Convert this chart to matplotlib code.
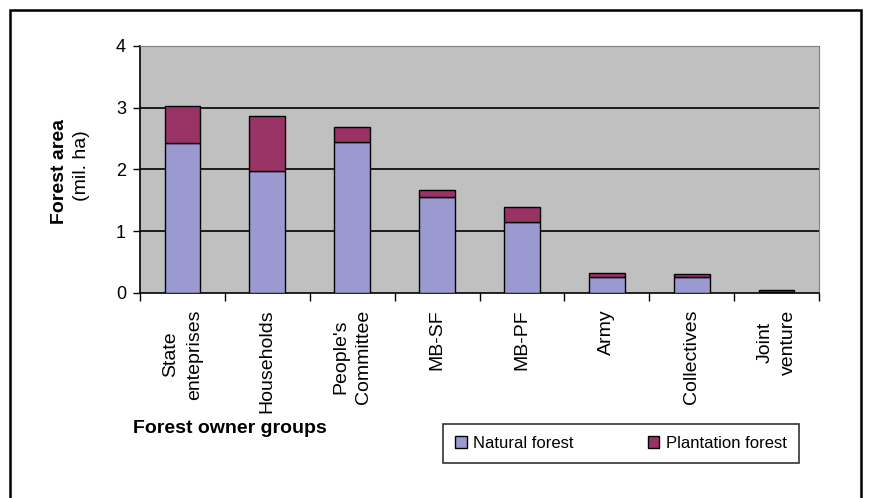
import numpy as np
import matplotlib
matplotlib.use("Agg")
import matplotlib.pyplot as plt
from matplotlib.patches import Rectangle

plt.rcParams['font.family'] = ['Liberation Sans', 'DejaVu Sans']

# data (mil. ha)
groups = ["State\nenteprises", "Households", "People's\nCommittee", "MB-SF",
          "MB-PF", "Army", "Collectives", "Joint\nventure"]
natural = [2.42, 1.98, 2.44, 1.55, 1.15, 0.25, 0.25, 0.01]
plantation = [0.61, 0.89, 0.25, 0.11, 0.24, 0.07, 0.05, 0.04]
yticks = [0, 1, 2, 3, 4]

W, H = 872, 498
fig = plt.figure(figsize=(W / 100, H / 100), dpi=100)
ax = fig.add_axes([140 / W, 1 - 292.7 / H, (819 - 140) / W, (292.7 - 46) / H])

x = np.arange(len(groups))
ax.set_facecolor('#c0c0c0')
ax.bar(x, natural, width=0.42, color='#9a9ad0', edgecolor='black', linewidth=1,
       label='Natural forest', zorder=3)
ax.bar(x, plantation, width=0.42, bottom=natural, color='#993366', edgecolor='black',
       linewidth=1, label='Plantation forest', zorder=3)

# gridlines
for v in yticks[1:-1]:
    ax.axhline(v, color='black', linewidth=1.2, zorder=1)

ax.set_xlim(-0.5, len(groups) - 0.5)
ax.set_ylim(0, 4)
ax.set_yticks(yticks)
ax.set_yticklabels([str(v) for v in yticks], fontsize=13)
ax.tick_params(axis='y', direction='out', length=5, width=1, pad=5)

ax.set_xticks(np.arange(len(groups) + 1) - 0.5)
ax.set_xticklabels([])
ax.tick_params(axis='x', direction='out', length=6, width=1)
for i, g in enumerate(groups):
    ax.text(i, -0.27, g, rotation=90, ha='center', va='top', fontsize=14,
            multialignment='center', linespacing=1.5)

ax.spines['left'].set_color('black')
ax.spines['bottom'].set_color('black')
ax.spines['left'].set_linewidth(1.2)
ax.spines['bottom'].set_linewidth(1.2)
ax.spines['top'].set_color('#808080')
ax.spines['right'].set_color('#808080')

fig.text(59 / W, 1 - 171 / H, "Forest area", rotation=90, ha='center', va='center',
         fontsize=14, fontweight='bold')
fig.text(81 / W, 1 - 166 / H, "(mil. ha)", rotation=90, ha='center', va='center',
         fontsize=14)
fig.text(133 / W, 1 - 428 / H, "Forest owner groups", ha='left', va='center',
         fontsize=14, fontweight='bold')

leg = fig.legend(loc='center', ncol=2, mode='expand',
                 bbox_to_anchor=(435 / W, 1 - 462 / H, (807 - 435) / W, 37 / H),
                 fontsize=12, frameon=True, fancybox=False, borderpad=0.7,
                 handlelength=0.7, handleheight=0.7, handletextpad=0.4,
                 columnspacing=2.0)
leg.get_frame().set_edgecolor('black')
leg.get_frame().set_linewidth(1.2)

# outer border of the figure (bottom edge cut off)
fig.patches.append(Rectangle((10 / W, -0.05), (861 - 10) / W, 1.05 - 10 / H,
                             transform=fig.transFigure, fill=False,
                             edgecolor='black', linewidth=1.8))

fig.savefig('out.png', dpi=100)
